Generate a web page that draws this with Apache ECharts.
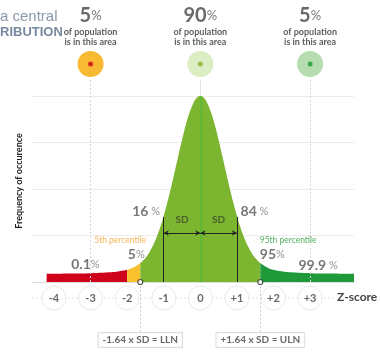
<!DOCTYPE html>
<html>
<head>
<meta charset="utf-8">
<script src="https://cdn.jsdelivr.net/npm/echarts@6/dist/echarts.min.js"></script>
<style>html,body{margin:0;padding:0;background:#fff}#c{width:380px;height:352px}</style>
</head>
<body>
<div id="c"></div>
<script>
// ---- data ----
const zValues = [-4.2,-3.8,-3.4,-3.0,-2.6,-2.3,-2.0,-1.8,-1.64,-1.5,-1.4,-1.3,-1.2,-1.1,-1.0,-0.9,-0.8,-0.7,-0.6,-0.5,-0.4,-0.3,-0.2,-0.1,0,
                 0.1,0.2,0.3,0.4,0.5,0.6,0.7,0.8,0.9,1.0,1.1,1.2,1.3,1.4,1.5,1.64,1.8,2.0,2.3,2.6,3.0,3.4,3.8,4.2];
const freqValues = [0.178,0.180,0.183,0.189,0.204,0.221,0.262,0.323,0.406,0.518,0.631,0.772,0.953,1.169,1.422,1.713,2.032,2.372,2.717,3.054,3.363,3.627,3.830,3.957,4.000,
                    3.957,3.830,3.627,3.363,3.054,2.717,2.372,2.032,1.713,1.422,1.169,0.953,0.772,0.631,0.518,0.406,0.323,0.262,0.221,0.204,0.189,0.183,0.180,0.178];
const segmentBounds = [-4.2, -2.0, -1.64, 1.64, 4.2];
const segmentColors = ['#d0021b', '#f7c22d', '#7cb530', '#1f9a3b'];
const zTickLabels = ['-4','-3','-2','-1','0','+1','+2','+3'];
const zTickValues = [-4,-3,-2,-1,0,1,2,3];
const topZ = [-3, 0, 3];
const topPercent = ['5', '90', '5'];
const topCircleColors = ['#f6a700', '#d2e8b4', '#a3d49b'];
const topDotColors = ['#d0021b', '#7cb530', '#1f9a3b'];
const llnZ = -1.64, ulnZ = 1.64;
const sdLevel = 1.054, sdLineTop = 1.4;

const F = 'Lato, "Open Sans", sans-serif';

function segment(a, b) {
  return zValues.map((z, i) => [z, freqValues[i]]).filter(p => p[0] >= a - 1e-9 && p[0] <= b + 1e-9);
}

const areaSeries = segmentColors.map((c, i) => ({
  type: 'line', xAxisIndex: 0, yAxisIndex: 0, z: 3,
  data: segment(segmentBounds[i], segmentBounds[i + 1]),
  smooth: true, symbol: 'none', silent: true,
  lineStyle: { width: 0, color: c },
  areaStyle: { color: c, opacity: 1 }
}));

const chart = echarts.init(document.getElementById('c'), null, { renderer: 'canvas' });
const yTop = 4.344;

const pctRich = {
  n: { fontSize: 14, fontWeight: 'bold', color: '#555', fontFamily: F },
  p: { fontSize: 11, color: '#777', fontFamily: F }
};

chart.setOption({
  animation: false,
  textStyle: { fontFamily: F },
  grid: [
    { left: 32, right: 26, top: 80, height: 202 },
    { left: 32, right: 26, top: 282, height: 68 },
    { left: 32, right: 26, top: 40, height: 48 }
  ],
  xAxis: [
    { gridIndex: 0, type: 'value', min: -4.6, max: 4.2, axisLine: { lineStyle: { color: '#dcdcdc' } }, axisTick: { show: false }, axisLabel: { show: false }, splitLine: { show: false } },
    { gridIndex: 1, type: 'value', min: -4.6, max: 4.2, show: false },
    { gridIndex: 2, type: 'value', min: -4.6, max: 4.2, show: false }
  ],
  yAxis: [
    { gridIndex: 0, type: 'value', min: 0, max: yTop, interval: 1,
      name: 'Frequency of occurence', nameLocation: 'middle', nameGap: 8, nameRotate: 90,
      nameTextStyle: { fontSize: 9, fontWeight: 'bold', color: '#222', fontFamily: F },
      axisLine: { show: true, lineStyle: { color: '#dcdcdc' } }, axisTick: { show: false }, axisLabel: { show: false },
      splitLine: { show: true, showMaxLine: false, showMinLine: false, lineStyle: { color: '#ececec' } } },
    { gridIndex: 1, type: 'value', min: -52, max: 16, show: false },
    { gridIndex: 2, type: 'value', min: -1, max: 1, show: false }
  ],
  graphic: [
    { type: 'text', left: 0, top: 9, style: { text: 'a central', font: '15px "Liberation Sans", Arial, sans-serif', fill: '#8a98aa' } },
    { type: 'text', left: 0, top: 26, style: { text: 'RIBUTION', font: 'bold 13px "Liberation Sans", Arial, sans-serif', fill: '#7789a0' } },
    { type: 'text', left: 337, top: 291, style: { text: 'Z-score', font: 'bold 12px ' + F, fill: '#444' } }
  ],
  series: [
    // guide lines behind the curve
    { type: 'line', xAxisIndex: 0, yAxisIndex: 0, data: [], z: 1, silent: true,
      markLine: { symbol: ['none', 'none'], silent: true, label: { show: false },
        lineStyle: { color: '#d8d8d8', type: [2, 2], width: 1 },
        data: [
          [{ coord: [-3, 0] }, { coord: [-3, yTop] }],
          [{ coord: [3, 0] }, { coord: [3, yTop] }],
          [{ coord: [0, 4] , lineStyle: { type: 'solid', color: '#e2e2e2' } }, { coord: [0, yTop] }]
        ] } },
    ...areaSeries,
    // center line, SD lines and arrows
    { type: 'line', xAxisIndex: 0, yAxisIndex: 0, data: [], z: 5, silent: true,
      markLine: { symbol: ['none', 'none'], silent: true, label: { show: false },
        lineStyle: { color: '#222', type: 'solid', width: 1 },
        data: [
          [{ coord: [0, 0], lineStyle: { color: '#58b83a', width: 1.5 } }, { coord: [0, 4] }],
          [{ coord: [-1, 0] }, { coord: [-1, sdLineTop] }],
          [{ coord: [1, 0] }, { coord: [1, sdLineTop] }],
          [{ coord: [-1, sdLevel], symbol: 'arrow', symbolSize: [4, 5] }, { coord: [0, sdLevel], symbol: 'arrow', symbolSize: [4, 5] }],
          [{ coord: [0, sdLevel], symbol: 'arrow', symbolSize: [4, 5] }, { coord: [1, sdLevel], symbol: 'arrow', symbolSize: [4, 5] }]
        ] } },
    // LLN / ULN markers on baseline
    { type: 'scatter', xAxisIndex: 0, yAxisIndex: 0, z: 6, silent: true, clip: false,
      symbol: 'circle', symbolSize: 5,
      itemStyle: { color: '#fff', borderColor: '#333', borderWidth: 1.2 },
      data: [[llnZ, 0], [ulnZ, 0]] },
    // text annotations in the main plot
    { type: 'scatter', xAxisIndex: 0, yAxisIndex: 0, z: 7, silent: true, clip: false,
      symbolSize: 1, itemStyle: { color: 'rgba(0,0,0,0)' },
      label: { show: true, position: 'inside', fontFamily: F },
      data: [
        { value: [-1.48, 1.527], label: { formatter: '{n|16}{p| %}', rich: pctRich } },
        { value: [1.48, 1.527], label: { formatter: '{n|84}{p| %}', rich: pctRich } },
        { value: [-0.5, 1.33], label: { formatter: 'SD', fontSize: 10, fontWeight: 'bold', color: '#3d4a2a' } },
        { value: [0.5, 1.33], label: { formatter: 'SD', fontSize: 10, fontWeight: 'bold', color: '#3d4a2a' } },
        { value: [-2.19, 0.90], label: { formatter: '5th percentile', fontSize: 8.5, color: '#f5a02a' } },
        { value: [-1.75, 0.60], label: { formatter: '{n|5}{p|%}', rich: pctRich } },
        { value: [-3.14, 0.37], label: { formatter: '{n|0.1}{p|%}', rich: pctRich } },
        { value: [2.4, 0.90], label: { formatter: '95th percentile', fontSize: 8.5, color: '#2a9a3a' } },
        { value: [1.97, 0.60], label: { formatter: '{n|95}{p|%}', rich: pctRich } },
        { value: [3.22, 0.35], label: { formatter: '{n|99.9}{p| %}', rich: pctRich } }
      ] },
    // z-score row: connecting dashed line
    { type: 'line', xAxisIndex: 1, yAxisIndex: 1, z: 1, silent: true, symbol: 'none',
      data: [[-4.6, 0], [3.7, 0]],
      lineStyle: { color: '#e0e0e0', width: 1, type: [2, 2] },
      markLine: { symbol: ['none', 'none'], silent: true, label: { show: false },
        lineStyle: { color: '#cfcfcf', type: [2, 2], width: 1 },
        data: [
          [{ coord: [llnZ, 16] }, { coord: [llnZ, -35] }],
          [{ coord: [ulnZ, 16] }, { coord: [ulnZ, -35] }]
        ] } },
    // z-score circles
    { type: 'scatter', xAxisIndex: 1, yAxisIndex: 1, z: 4, silent: true, clip: false,
      symbol: 'circle', symbolSize: 24,
      itemStyle: { color: '#fff', borderColor: '#e2e2e2', borderWidth: 1 },
      label: { show: true, position: 'inside', fontSize: 11, fontWeight: 'bold', color: '#444', fontFamily: F,
        formatter: p => zTickLabels[p.dataIndex] },
      data: zTickValues.map(z => [z, 0]) },
    // LLN / ULN boxes
    { type: 'scatter', xAxisIndex: 1, yAxisIndex: 1, z: 4, silent: true, clip: false,
      symbolSize: 1, itemStyle: { color: 'rgba(0,0,0,0)' },
      label: { show: true, position: 'inside', fontSize: 10, fontWeight: 'bold', color: '#444', fontFamily: F,
        backgroundColor: '#fff', borderColor: '#d6d6d6', borderWidth: 1, padding: [2, 4, 2, 4] },
      data: [
        { value: [llnZ, -42], label: { formatter: '-1.64 x SD = LLN' } },
        { value: [ulnZ, -42], label: { formatter: '+1.64 x SD = ULN' } }
      ] },
    // top circles with population labels
    { type: 'scatter', xAxisIndex: 2, yAxisIndex: 2, z: 4, silent: true, clip: false,
      symbol: 'circle', symbolSize: 26,
      label: { show: true, position: 'top', distance: 4, align: 'center',
        formatter: p => '{n|' + topPercent[p.dataIndex] + '}{p|%}\n{t|of population}\n{t|is in this area}',
        rich: {
          n: { fontSize: 20, fontWeight: 'bold', color: '#444', fontFamily: F, lineHeight: 22, align: 'center' },
          p: { fontSize: 13, color: '#555', fontFamily: F, lineHeight: 22 },
          t: { fontSize: 9, color: '#333', fontFamily: F, fontWeight: 'bold', lineHeight: 10, align: 'center' }
        } },
      data: topZ.map((z, i) => ({ value: [z, 0], itemStyle: { color: topCircleColors[i] } })) },
    { type: 'scatter', xAxisIndex: 2, yAxisIndex: 2, z: 5, silent: true, clip: false,
      symbol: 'circle', symbolSize: 5,
      data: topZ.map((z, i) => ({ value: [z, 0], itemStyle: { color: topDotColors[i] } })) }
  ]
});
</script>
</body>
</html>
